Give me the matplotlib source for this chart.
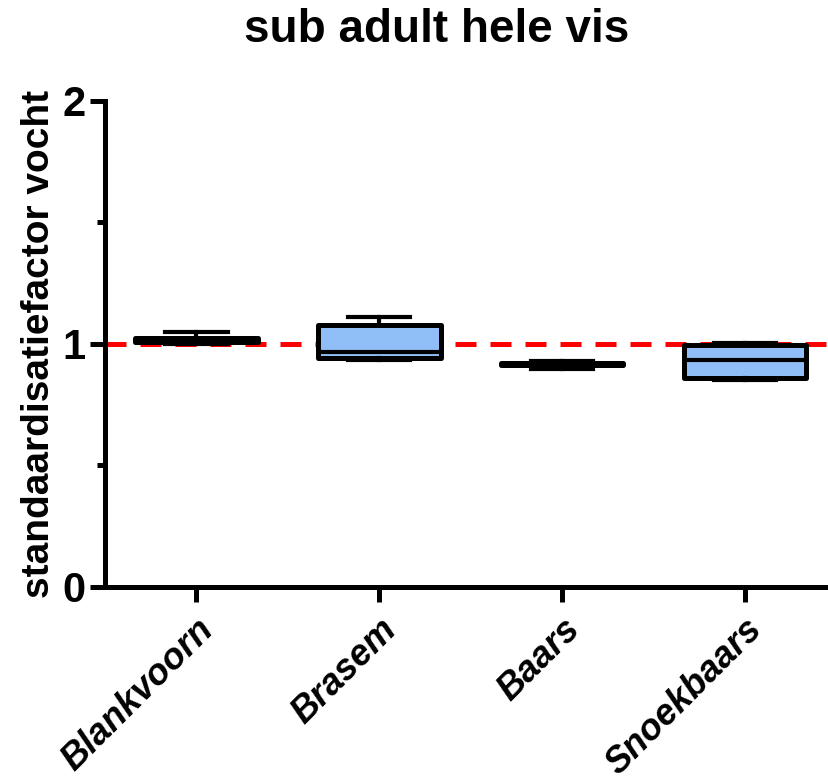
import matplotlib.pyplot as plt
from matplotlib.ticker import MultipleLocator

# values
species = ['Blankvoorn', 'Brasem', 'Baars', 'Snoekbaars']
whis_low = [1.00, 0.934, 0.895, 0.852]
q1 = [1.01, 0.941, 0.914, 0.861]
median = [1.02, 0.968, 0.918, 0.934]
q3 = [1.025, 1.077, 0.922, 0.995]
whis_high = [1.05, 1.110, 0.930, 1.003]
reference = 1.0

plt.rcParams['font.family'] = ['Liberation Sans', 'DejaVu Sans']
plt.rcParams['font.weight'] = 'bold'

fig = plt.figure(figsize=(8.29, 7.84), dpi=100)
ax = fig.add_axes([0.1267, 0.2513, 0.8733, 0.6199])

stats = []
for i, name in enumerate(species):
    stats.append({'label': name, 'whislo': whis_low[i], 'q1': q1[i],
                  'med': median[i], 'q3': q3[i], 'whishi': whis_high[i]})

lw = 3.6
thin = 3.0
ax.bxp(stats, positions=range(1, len(species) + 1), widths=0.67,
       showfliers=False, patch_artist=True,
       boxprops=dict(facecolor='#90BFF8', edgecolor='black', linewidth=lw,
                     joinstyle='round'),
       medianprops=dict(color='black', linewidth=thin),
       whiskerprops=dict(color='black', linewidth=thin),
       capprops=dict(color='black', linewidth=thin),
       capwidths=0.34, zorder=3)

ax.axhline(reference, color='#FF0000', linewidth=lw, linestyle=(0, (4.2, 2.8)), zorder=2)

ax.set_xlim(0.5, 4.46)
ax.set_ylim(0, 2)
ax.yaxis.set_major_locator(MultipleLocator(1))
ax.yaxis.set_minor_locator(MultipleLocator(0.5))

for side in ['top', 'right']:
    ax.spines[side].set_visible(False)
for side in ['left', 'bottom']:
    ax.spines[side].set_linewidth(lw)

ax.tick_params(axis='y', which='major', length=11, width=lw, labelsize=30, pad=3)
ax.tick_params(axis='y', which='minor', length=6, width=lw)
ax.tick_params(axis='x', which='major', length=11, width=lw, labelsize=26, pad=7)

ax.set_xticks(range(1, len(species) + 1))
ax.set_xticklabels(species, rotation=45, ha='right', rotation_mode='anchor',
                   fontstyle='italic', fontweight='bold')

ax.set_ylabel('standaardisatiefactor vocht', fontsize=28, fontweight='bold', labelpad=4)
fig.suptitle('sub adult hele vis', fontsize=33, fontweight='bold', x=0.527, y=0.99)

fig.savefig('out.png', dpi=100)
